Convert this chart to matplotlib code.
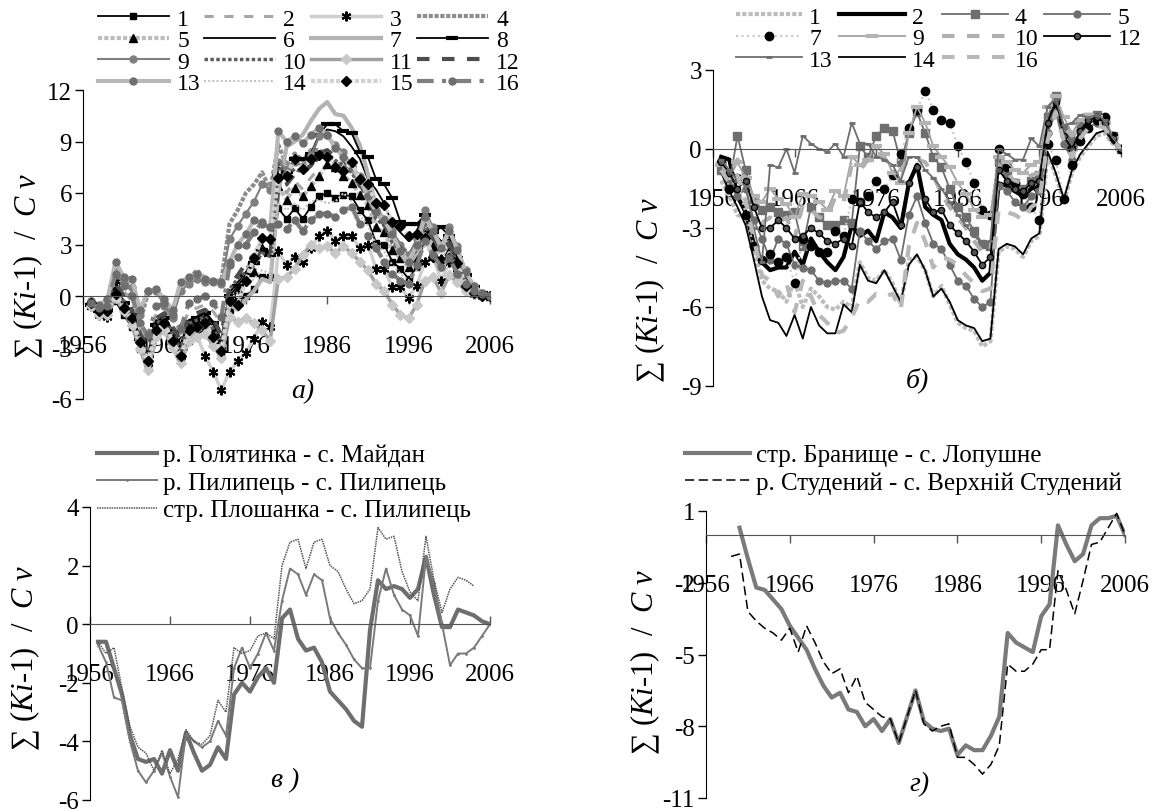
import matplotlib
matplotlib.use("Agg")
from matplotlib import pyplot as plt
from matplotlib.lines import Line2D

plt.rcParams['font.family'] = ['Liberation Serif', 'DejaVu Serif']
plt.rcParams['mathtext.fontset'] = 'custom'
plt.rcParams['mathtext.rm'] = 'Liberation Serif'
plt.rcParams['mathtext.it'] = 'Liberation Serif:italic'
plt.rcParams['axes.unicode_minus'] = False

years = list(range(1957, 2007))

# --- panel a) 16 series, 1957-2006 ---
a1 = [-0.5, -1.0, -1.0, -0.3, -1.1, -1.8, -3.1, -4.1, -2.3, -2.0, -2.9, -3.6, -2.6, -2.2, -2.0, -2.6, -3.3, -0.8, -0.3, 0.0,
      0.4, 1.1, 1.1, 5.1, 4.5, 5.1, 4.5, 5.2, 5.8, 6.0, 5.7, 5.9, 5.8, 5.0, 4.4, 3.1, 3.0, 2.0, 1.6, 1.0,
      1.7, 3.3, 2.6, 1.9, 2.3, 1.4, 0.6, 0.2, 0.1, 0.0]
a2 = [-0.4, -0.7, -0.6, 0.9, 0.3, -0.3, -1.9, -2.8, -1.0, -0.8, -1.3, -2.2, -0.8, -0.7, -0.5, -0.9, -1.6, 0.2, 0.5, 1.5,
      2.5, 3.2, 3.0, 6.8, 6.0, 6.7, 6.2, 6.9, 7.4, 7.6, 7.3, 7.5, 7.2, 6.3, 5.5, 4.2, 4.0, 3.0, 2.5, 1.9,
      2.4, 3.9, 3.1, 2.4, 2.8, 1.8, 0.9, 0.4, 0.1, 0.0]
a3 = [-0.6, -1.1, -1.2, 0.9, -0.5, -1.6, -2.6, -3.9, -2.3, -1.9, -2.6, -3.5, -2.4, -2.3, -3.5, -4.4, -5.5, -4.4, -3.8, -3.3,
      -2.5, -1.5, -1.8, 2.6, 1.8, 2.3, 2.0, 2.8, 3.5, 3.8, 3.2, 3.5, 3.5, 2.8, 3.0, 1.6, 1.6, 0.5, 0.5, -0.1,
      0.6, 2.0, 2.3, 0.9, 2.0, 1.4, 0.5, 0.1, 0.0, 0.0]
a4 = [-0.3, -0.6, -0.4, 1.6, 1.0, 0.3, -1.5, 0.2, 0.4, -0.4, -1.0, 0.6, 1.0, 1.5, 1.0, 0.9, 0.9, 4.2, 5.0, 6.0,
      6.5, 7.2, 6.2, 8.8, 7.6, 8.3, 7.9, 8.5, 8.5, 8.2, 7.7, 7.7, 7.4, 6.6, 6.0, 4.8, 4.4, 3.5, 3.0, 2.4,
      2.9, 4.3, 3.5, 2.8, 3.1, 2.0, 1.0, 0.4, 0.1, 0.0]
a5 = [-0.5, -0.8, -0.8, 0.3, -0.5, -1.2, -2.5, -3.4, -1.6, -1.3, -2.2, -3.0, -1.6, -1.4, -1.2, -2.0, -2.8, 0.0, 0.4, 1.0,
      1.4, 2.8, 2.6, 6.4, 5.6, 6.3, 5.8, 6.4, 7.0, 7.7, 7.5, 7.0, 6.6, 5.9, 5.3, 4.0, 3.7, 2.7, 2.2, 1.7,
      2.2, 3.6, 2.9, 2.2, 2.6, 1.7, 0.8, 0.3, 0.1, 0.0]
a6 = [-0.4, -0.8, -0.7, 0.5, -0.3, -1.0, -2.4, -3.3, -1.5, -1.2, -2.0, -2.8, -1.4, -1.2, -0.9, -1.5, -2.6, 0.2, 0.8, 1.4,
      2.0, 2.9, 2.5, 7.5, 7.0, 7.8, 8.0, 8.1, 9.3, 9.7, 9.6, 9.3, 8.7, 8.0, 6.8, 6.2, 5.4, 4.2, 3.7, 3.2,
      3.8, 4.9, 3.7, 3.2, 3.3, 2.0, 1.0, 0.4, 0.1, 0.0]
a7 = [-0.5, -0.9, -0.9, 0.2, -0.6, -1.5, -3.0, -4.4, -2.3, -1.9, -2.9, -4.0, -2.4, -2.1, -1.6, -2.7, -3.6, -0.5, -0.8, -0.2,
      0.3, 1.0, 0.8, 6.0, 8.7, 9.0, 9.4, 10.2, 10.9, 11.3, 10.6, 10.5, 9.8, 8.8, 7.1, 5.2, 4.4, 3.3, 2.5, 1.8,
      2.5, 3.6, 2.2, 1.5, 2.5, 1.8, 0.8, 0.3, 0.1, 0.0]
a8 = [-0.5, -0.9, -0.8, 0.4, -0.4, -1.1, -2.5, -3.5, -1.7, -1.3, -2.1, -3.0, -1.5, -1.3, -1.0, -1.6, -2.7, 0.0, 0.6, 1.2,
      1.9, 2.7, 2.4, 7.0, 7.2, 8.0, 8.0, 8.3, 9.4, 10.0, 10.0, 9.6, 9.5, 8.4, 8.1, 6.8, 6.5, 5.7, 4.3, 4.2,
      4.2, 4.7, 3.7, 4.0, 3.5, 2.2, 1.2, 0.5, 0.2, 0.0]
a9 = [-0.3, -0.6, -0.5, 1.2, 0.8, 0.5, -1.1, 0.3, 0.3, -0.6, -1.3, 0.3, 0.7, 1.0, 0.8, 0.8, 0.7, 3.3, 4.1, 4.8,
      5.5, 6.5, 6.2, 7.8, 7.4, 7.8, 7.6, 8.2, 9.3, 9.4, 8.8, 8.4, 7.6, 7.0, 6.0, 5.0, 4.5, 3.8, 3.0, 2.4,
      3.3, 5.0, 4.0, 3.0, 4.0, 2.9, 1.5, 0.6, 0.2, 0.0]
a10 = [-0.5, -0.9, -0.8, 0.4, -0.3, -1.0, -2.5, -3.4, -1.6, -1.3, -2.2, -3.1, -1.6, -1.4, -1.2, -1.9, -2.8, 0.4, 1.0, 1.4,
       1.8, 2.5, 2.3, 7.7, 7.0, 7.4, 7.2, 7.7, 8.0, 8.3, 7.9, 7.6, 7.2, 6.4, 5.7, 4.5, 4.1, 3.1, 2.6, 2.1,
       2.7, 4.2, 3.3, 2.6, 2.9, 1.9, 0.9, 0.4, 0.1, 0.0]
a11 = [-0.6, -1.1, -1.1, -0.1, -0.9, -1.7, -3.1, -4.3, -2.4, -2.0, -3.0, -3.9, -2.6, -2.4, -2.2, -2.9, -3.6, -1.2, -1.5, -1.3,
       -1.6, -2.0, -2.6, 1.0, 1.1, 1.6, 2.4, 3.0, 2.8, 2.9, 2.5, 2.9, 2.5, 2.0, 1.5, 0.7, 0.3, -0.5, -1.1, -1.3,
       -0.5, 0.9, 1.1, 0.2, 1.2, 0.8, 0.3, 0.1, 0.0, 0.0]
a12 = [-0.4, -0.8, -0.7, 0.8, 0.0, -0.8, -2.2, -3.0, -1.3, -1.0, -1.8, -2.6, -1.2, -1.0, -0.8, -1.3, -2.3, 0.6, 1.2, 1.9,
       2.4, 2.6, 2.3, 6.3, 6.5, 7.1, 7.2, 7.6, 8.3, 8.5, 8.1, 7.9, 7.5, 6.5, 5.8, 4.6, 4.2, 3.3, 2.8, 2.3,
       2.9, 4.4, 3.4, 2.7, 3.1, 2.1, 1.0, 0.4, 0.1, 0.0]
a13 = [-0.3, -0.5, -0.2, 2.0, 1.1, 1.0, -0.8, 0.3, 0.4, -0.2, -0.8, 0.8, 1.1, 1.3, 1.0, 0.9, 0.8, 2.0, 3.0, 3.6,
       4.4, 4.2, 4.0, 9.6, 9.0, 9.3, 8.9, 9.4, 9.8, 9.4, 8.6, 8.1, 7.5, 6.8, 5.8, 4.9, 4.4, 3.6, 2.6, 2.0,
       3.0, 4.6, 3.8, 2.8, 3.8, 2.7, 1.4, 0.6, 0.2, 0.0]
a14 = [-0.6, -1.1, -1.0, 0.1, -0.8, -1.6, -3.0, -4.5, -2.5, -2.1, -3.0, -4.1, -2.7, -2.4, -2.0, -2.9, -3.4, -0.2, 0.2, 0.5,
       1.0, 1.5, 1.3, 5.5, 5.0, 5.4, 5.0, 5.5, 5.6, 5.4, 5.5, 6.0, 5.5, 4.7, 4.1, 3.0, 2.6, 1.8, 1.3, 0.9,
       1.5, 3.0, 2.3, 1.6, 2.1, 1.3, 0.6, 0.2, 0.0, 0.0]
a15 = [-0.4, -0.9, -0.9, 0.1, -0.7, -1.3, -2.7, -3.8, -2.0, -1.6, -2.6, -3.5, -2.0, -1.8, -1.6, -2.4, -3.2, -0.3, -0.5, 0.9,
       2.2, 3.4, 3.3, 6.9, 7.0, 8.0, 7.4, 8.0, 8.2, 8.1, 7.5, 7.3, 7.8, 6.8, 6.5, 5.4, 5.3, 4.3, 4.1, 3.5,
       3.6, 3.4, 2.3, 2.1, 2.2, 1.9, 0.6, 0.2, 0.0, 0.0]
a16 = [-0.4, -0.7, -0.6, 1.3, 0.6, 0.0, -1.6, -2.3, -0.6, -0.4, -1.1, -1.9, -0.4, -0.2, 0.0, -0.4, -1.2, 1.8, 2.3, 3.0,
       3.7, 4.3, 4.0, 4.2, 3.9, 4.4, 3.8, 4.4, 4.8, 4.8, 4.6, 5.0, 5.2, 4.2, 3.5, 2.8, 2.0, 1.3, 0.9, 0.7,
       1.8, 3.2, 2.4, 1.7, 2.2, 1.3, 0.7, 0.3, 0.1, 0.0]
series_a = [a1, a2, a3, a4, a5, a6, a7, a8, a9, a10, a11, a12, a13, a14, a15, a16]
labels_a = [str(i) for i in range(1, 17)]

# --- panel б) ---
b1 = [-1.2, -1.8, -2.5, -2.6, -3.8, -5.0, -5.3, -5.4, -5.8, -5.0, -6.0, -5.3, -5.6, -6.0, -6.1, -5.8, -6.0, -4.3, -4.9, -5.0,
      -4.6, -5.1, -5.9, -4.2, -4.1, -4.6, -5.6, -5.2, -5.9, -6.6, -6.8, -6.9, -7.5, -7.3, -3.9, -3.7, -3.8, -4.1, -3.5, -3.3,
      -0.2, -1.0, -2.0, -0.9, -0.3, 0.1, 0.5, 0.6, 0.2, 0.0]
b2 = [-0.3, -0.4, -1.8, -2.4, -3.6, -4.3, -4.6, -4.5, -4.5, -3.9, -4.4, -3.4, -3.9, -4.3, -4.6, -4.1, -2.9, -3.3, -3.1, -3.5,
      -2.4, -2.6, -3.0, -1.3, -0.6, -2.2, -2.5, -2.7, -3.6, -4.0, -4.2, -4.5, -5.0, -4.7, -1.3, -1.4, -1.6, -1.8, -1.5, -1.4,
      0.8, 1.9, 0.4, -0.2, 0.6, 1.0, 1.2, 0.9, 0.3, 0.0]
b4 = [-0.8, -1.3, 0.5, -0.8, -1.9, -2.3, -2.2, -2.4, -2.5, -2.4, -3.7, -2.2, -2.6, -2.9, -2.9, -2.7, -2.8, 0.1, -0.3, 0.5,
      0.8, 0.7, -0.5, 0.6, 1.4, 0.6, -0.3, -0.7, -1.5, -2.2, -2.6, -3.1, -3.6, -3.7, -0.5, -0.9, -1.3, -1.5, -1.2, -1.0,
      1.2, 2.0, 0.8, 0.3, 1.0, 1.2, 1.3, 1.1, 0.5, 0.0]
b5 = [-0.6, -1.0, -1.8, -1.5, -2.7, -3.4, -4.2, -3.4, -3.6, -4.4, -4.5, -4.6, -5.0, -5.1, -5.0, -5.0, -5.3, -3.1, -3.5, -3.8,
      -3.5, -3.4, -4.2, -2.5, -1.8, -2.8, -3.6, -3.8, -4.4, -5.0, -5.2, -5.7, -6.0, -5.8, -1.4, -1.6, -2.0, -2.2, -1.8, -1.6,
      0.6, 1.4, 0.2, -0.4, 0.4, 0.8, 1.0, 0.9, 0.4, 0.0]
b7 = [-0.5, -1.5, -1.1, -2.5, -3.7, -4.2, -4.0, -4.3, -4.1, -5.1, -3.4, -3.7, -3.9, -3.9, -3.1, -3.3, -1.9, -2.0, -1.8, -1.2,
      -1.5, -1.0, -0.2, 0.8, 1.5, 2.2, 1.5, 1.1, 1.0, 0.1, -0.5, -1.3, -2.3, -2.5, 0.0, -0.7, -1.3, -1.7, -2.2, -2.7,
      0.2, -0.4, -1.9, -0.6, 0.3, 0.8, 1.1, 1.2, 0.5, 0.0]
b9 = [-0.6, -1.1, -0.5, -1.1, -1.8, -2.0, -1.5, -1.9, -2.1, -2.6, -1.7, -1.8, -2.0, -2.3, -1.6, -1.8, -0.3, -0.6, -0.4, 0.1,
      -0.2, -0.9, -1.3, 0.6, 1.6, 1.0, 0.1, -0.3, -0.7, -1.3, -1.7, -2.3, -2.6, -2.5, -0.3, -0.5, -0.8, -0.9, -0.6, -0.5,
      1.6, 2.0, 1.2, 0.6, 1.1, 1.3, 1.2, 1.0, 0.4, 0.0]
b10 = [-0.5, -1.0, -0.4, -1.2, -2.0, -2.8, -2.6, -2.8, -2.6, -3.4, -2.1, -2.3, -2.6, -2.6, -1.8, -2.0, -0.6, -0.8, -0.4, -0.1,
       -0.4, -0.6, -0.8, -0.4, -0.4, -0.5, -1.0, -1.7, -2.2, -2.6, -3.0, -3.5, -3.9, -3.9, -0.6, -1.0, -1.2, -1.3, -1.0, -0.9,
       1.2, 2.0, 1.0, 0.5, 0.9, 1.2, 1.1, 1.0, 0.4, 0.0]
b12 = [-0.5, -0.9, -1.5, -1.2, -2.2, -3.0, -3.0, -2.7, -3.0, -3.4, -3.3, -3.0, -3.2, -3.5, -3.6, -3.4, -3.7, -2.0, -2.4, -2.6,
       -2.4, -2.0, -2.9, -1.3, -0.7, -1.9, -2.4, -2.3, -2.9, -3.2, -3.5, -3.9, -4.4, -4.1, -0.8, -1.2, -1.5, -1.6, -1.3, -1.2,
       1.0, 1.8, 0.5, 0.0, 0.7, 1.1, 1.2, 1.0, 0.4, 0.0]
b13 = [-0.4, -0.8, -1.2, -1.4, -3.0, -4.3, -0.6, -0.7, 0.0, -0.9, 0.5, 0.2, 0.0, -0.1, 0.2, -0.3, 1.0, 0.2, 0.2, -0.3,
       -0.4, -0.6, -1.2, -0.3, -0.3, -0.8, -1.1, -1.5, -2.0, -2.5, -2.9, -3.3, -3.6, -3.5, 0.0, -0.2, -0.4, -0.4, 0.4, 0.1,
       1.6, 1.9, 0.9, 1.0, 1.3, 1.2, 1.3, 1.1, 0.4, 0.0]
b14 = [-0.9, -1.6, -2.2, -2.9, -4.2, -5.6, -6.5, -6.6, -7.1, -6.3, -7.2, -6.0, -6.7, -7.0, -7.0, -5.9, -6.2, -4.4, -5.0, -5.1,
       -4.6, -5.2, -5.8, -4.4, -4.0, -4.6, -5.6, -5.3, -5.8, -6.5, -6.7, -6.8, -7.3, -7.2, -3.8, -3.6, -3.7, -4.0, -3.4, -3.2,
       -0.1, -0.9, -1.9, -0.8, -0.2, 0.2, 0.6, 0.7, 0.3, 0.0]
b16 = [-0.8, -1.3, -1.0, -2.0, -3.4, -4.8, -5.0, -5.6, -5.1, -6.2, -5.0, -5.6, -6.3, -6.6, -7.0, -6.9, -6.4, -5.7, -5.8, -5.5,
       -5.6, -5.5, -6.1, -3.7, -2.8, -3.5, -4.5, -4.1, -4.2, -4.4, -4.8, -5.1, -5.4, -5.3, -2.3, -2.4, -2.5, -2.7, -2.2, -2.0,
       0.3, 1.4, 0.3, -0.3, 0.4, 0.8, 0.9, 0.8, 0.3, 0.0]
series_b = [b1, b2, b4, b5, b7, b9, b10, b12, b13, b14, b16]
labels_b = ['1', '2', '4', '5', '7', '9', '10', '12', '13', '14', '16']

# --- panel в) ---
golyatynka = [-0.6, -0.6, -1.5, -2.4, -3.8, -4.6, -4.7, -4.6, -5.1, -4.3, -5.0, -3.7, -4.4, -5.0, -4.8, -4.2, -4.6, -2.4, -2.0, -2.3,
              -1.8, -1.5, -2.0, 0.2, 0.5, -0.5, -0.9, -0.8, -1.3, -2.3, -2.6, -2.9, -3.3, -3.5, -0.2, 1.5, 1.2, 1.3, 1.2, 0.9,
              1.2, 2.3, 1.0, -0.1, -0.1, 0.5, 0.4, 0.3, 0.1, 0.0]
pylypets = [-0.7, -1.3, -2.5, -2.6, -4.0, -5.0, -5.4, -5.0, -4.4, -5.2, -5.9, -3.7, -4.0, -4.2, -4.0, -3.3, -3.8, -1.5, -0.8, -1.5,
            -1.0, -0.3, -0.9, 0.8, 1.9, 1.7, 1.0, 1.7, 1.5, 0.2, -0.3, -0.7, -1.2, -1.5, -1.5, 0.8, 1.9, 1.0, 0.5, 0.3,
            -0.4, 2.3, 1.4, 0.0, -1.4, -1.0, -1.0, -0.8, -0.4, 0.0]
ploshanka = [-0.6, -1.0, -0.8, -2.2, -3.5, -4.2, -4.4, -5.0, -4.3, -5.1, -4.6, -3.6, -4.0, -4.1, -3.8, -2.6, -3.0, -0.8, -1.0, -0.9,
             -0.4, -0.3, -0.5, 2.0, 2.8, 2.9, 1.9, 2.8, 2.9, 2.0, 1.8, 1.2, 0.7, 0.8, 1.2, 3.3, 2.9, 3.0, 1.8, 1.1,
             0.8, 3.0, 1.5, 0.4, 1.2, 1.6, 1.5, 1.3]
labels_c = ['р. Голятинка - с. Майдан', 'р. Пилипець - с. Пилипець', 'стр. Плошанка - с. Пилипець']

# --- panel г) ---
years_branyshche = list(range(1960, 2007))
branyshche = [0.3, -1.0, -2.2, -2.3, -2.7, -3.1, -3.8, -4.3, -4.8, -5.6, -6.3, -6.8, -6.6, -7.3, -7.4, -8.0, -7.7, -8.2, -7.7, -8.7,
              -7.6, -6.5, -7.8, -8.1, -8.2, -8.1, -9.2, -8.8, -9.0, -9.0, -8.4, -7.6, -4.1, -4.5, -4.7, -4.9, -3.4, -2.9, 0.4, -0.4,
              -1.1, -0.8, 0.4, 0.7, 0.7, 0.8, 0.0]
years_studenyi = list(range(1959, 2007))
studenyi = [-0.9, -0.8, -3.2, -3.6, -3.9, -4.1, -4.4, -3.9, -4.9, -3.8, -4.5, -5.3, -5.8, -5.6, -6.6, -5.9, -7.0, -7.3, -7.6, -7.7,
            -8.7, -7.6, -6.5, -7.9, -8.2, -8.0, -7.9, -9.3, -9.3, -9.6, -10.0, -9.6, -8.8, -5.4, -5.7, -5.7, -5.4, -4.8, -4.8, -1.5,
            -2.3, -3.3, -1.9, -0.4, -0.3, 0.3, 0.9, 0.0]
labels_d = ['стр. Бранище - с. Лопушне', 'р. Студений - с. Верхній Студений']

xticks = [1956, 1966, 1976, 1986, 1996, 2006]

styles_a = [
    dict(color='black', lw=1.3, marker='s', ms=5, mfc='black', mec='black'),
    dict(color='#a6a6a6', lw=2.2, ls=(0, (3, 3.5))),
    dict(color='#cfcfcf', lw=2.5, marker=(6, 2, 0), ms=7, mec='black', mew=1.5),
    dict(color='#8c8c8c', lw=3, ls=(0, (1, 0.4))),
    dict(color='#bdbdbd', lw=3, ls=(0, (1, 0.5)), marker='^', ms=6, mfc='black', mec='black'),
    dict(color='black', lw=1.3),
    dict(color='#b3b3b3', lw=3),
    dict(color='black', lw=1.3, marker='_', ms=9, mew=3, mec='black'),
    dict(color='#7f7f7f', lw=1.5, marker='o', ms=5, mfc='#7f7f7f', mec='#7f7f7f'),
    dict(color='#5e5e5e', lw=2.5, ls=(0, (1, 0.7))),
    dict(color='#a0a0a0', lw=2.5, marker='D', ms=5, mfc='#c8c8c8', mec='#c8c8c8'),
    dict(color='#4d4d4d', lw=3, ls=(0, (3, 3))),
    dict(color='#b8b8b8', lw=3, marker='o', ms=5, mfc='#6e6e6e', mec='#6e6e6e'),
    dict(color='#c4c4c4', lw=1.5, ls=(0, (1, 1))),
    dict(color='#d2d2d2', lw=3, ls=(0, (1, 0.5)), marker='D', ms=5, mfc='black', mec='black'),
    dict(color='#7f7f7f', lw=3, ls=(0, (4, 2, 1, 2)), marker='o', ms=5, mfc='#6e6e6e', mec='#6e6e6e'),
]
styles_b = [
    dict(color='#bdbdbd', lw=3, ls=(0, (1, 0.5))),
    dict(color='black', lw=3),
    dict(color='#6e6e6e', lw=1.3, marker='s', ms=6, mfc='#6e6e6e', mec='#6e6e6e'),
    dict(color='#6e6e6e', lw=1.3, marker='o', ms=5, mfc='#6e6e6e', mec='#6e6e6e'),
    dict(color='#c8c8c8', lw=1.5, ls=':', marker='o', ms=6, mfc='black', mec='black'),
    dict(color='#a0a0a0', lw=1.3, marker='_', ms=9, mew=3, mec='#b4b4b4'),
    dict(color='#b0b0b0', lw=3, ls=(0, (3, 3))),
    dict(color='black', lw=1.3, marker='o', ms=4.5, mfc='#555555', mec='black'),
    dict(color='#6e6e6e', lw=1.3, marker='_', ms=4, mew=2, mec='#6e6e6e'),
    dict(color='black', lw=1.3),
    dict(color='#b8b8b8', lw=3, ls=(0, (3, 3))),
]

W, H = 1159, 812
fig = plt.figure(figsize=(W / 100, H / 100), dpi=100)


def box(x0, y0, x1, y1):
    return [x0 / W, 1 - y1 / H, (x1 - x0) / W, (y1 - y0) / H]


def setup(ax, ylo, yhi, ystep, xdir='out'):
    ax.set_xlim(1956, 2006)
    ax.set_ylim(ylo, yhi)
    ax.spines['top'].set_visible(False)
    ax.spines['right'].set_visible(False)
    ax.spines['bottom'].set_position(('data', 0))
    ax.spines['bottom'].set_color('#555555')
    ax.set_xticks(xticks)
    ax.set_xticklabels([str(t) for t in xticks])
    ax.set_yticks(list(range(ylo, yhi + 1, ystep)))
    pad = 22 if xdir == 'out' else 28
    ax.tick_params(axis='x', direction=xdir, length=6, width=1, pad=pad, labelsize=18, color='#555555')
    ax.tick_params(axis='y', direction='out', length=6, width=1, pad=2, labelsize=18)
    ax.patch.set_alpha(0)


ax_a = fig.add_axes(box(83, 91, 490, 400))
for s, st in zip(series_a, styles_a):
    ax_a.plot(years, s, **st)
setup(ax_a, -6, 12, 3)

ax_b = fig.add_axes(box(713, 71, 1121, 387))
for s, st in zip(series_b, styles_b):
    ax_b.plot(years, s, **st)
setup(ax_b, -9, 3, 3)

ax_c = fig.add_axes(box(90, 508, 490, 801))
lc1, = ax_c.plot(years, golyatynka, color='#6e6e6e', lw=3)
lc2, = ax_c.plot(years, pylypets, color='#7a7a7a', lw=1.4, marker='.', ms=2)
lc3, = ax_c.plot(years[:len(ploshanka)], ploshanka, color='#555555', lw=1.1, ls=(0, (1, 0.6)))
setup(ax_c, -6, 4, 2, xdir='in')

ax_d = fig.add_axes(box(706, 512, 1125, 799))
ld1, = ax_d.plot(years_branyshche, branyshche, color='#7a7a7a', lw=3)
ld2, = ax_d.plot(years_studenyi, studenyi, color='black', lw=1.1, ls=(0, (6, 3)))
setup(ax_d, -11, 1, 3)

# legends (matplotlib fills columns first, so reorder to read row by row)
ha = [Line2D([], [], **st) for st in styles_a]
order_a = [r * 4 + c for c in range(4) for r in range(4)]
fig.legend([ha[i] for i in order_a], [labels_a[i] for i in order_a], ncol=4,
           loc='upper left', bbox_to_anchor=(98 / W, 1 - 9 / H), frameon=False, fontsize=17,
           handlelength=3.0, handletextpad=0.35, columnspacing=0.15, labelspacing=0.0,
           borderpad=0, borderaxespad=0)

hb = [Line2D([], [], **st) for st in styles_b]
order_b = [0, 4, 8, 1, 5, 9, 2, 6, 10, 3, 7]
fig.legend([hb[i] for i in order_b], [labels_b[i] for i in order_b], ncol=4,
           loc='upper left', bbox_to_anchor=(736 / W, 1 - 7 / H), frameon=False, fontsize=17,
           handlelength=2.8, handletextpad=0.3, columnspacing=0.25, labelspacing=0.0,
           borderpad=0, borderaxespad=0)

fig.legend([lc1, lc2, lc3], labels_c, loc='upper left', bbox_to_anchor=(97 / W, 1 - 445 / H),
           frameon=False, fontsize=18, handlelength=2.4, handletextpad=0.25, labelspacing=0.2,
           borderpad=0, borderaxespad=0)
fig.legend([ld1, ld2], labels_d, loc='upper left', bbox_to_anchor=(685 / W, 1 - 445 / H),
           frameon=False, fontsize=18, handlelength=2.6, handletextpad=0.25, labelspacing=0.2,
           borderpad=0, borderaxespad=0)

ylab = '∑ ' + r'$\mathit{(Ki}$' + '-' + r'$\mathit{1)}$' + '  /  ' + r'$\mathit{C\ v}$'
for (x, y) in [(28, 266), (650, 290), (25, 658), (645, 662)]:
    fig.text(x / W, 1 - y / H, ylab, rotation=90, ha='center', va='center', fontsize=22)

for (x, y, t) in [(303, 392, 'а)'), (917, 380, 'б)'), (285, 781, 'в )'), (920, 785, 'г)')]:
    fig.text(x / W, 1 - y / H, t, ha='center', va='center', fontsize=20, style='italic')

fig.savefig('out.png', dpi=100)
